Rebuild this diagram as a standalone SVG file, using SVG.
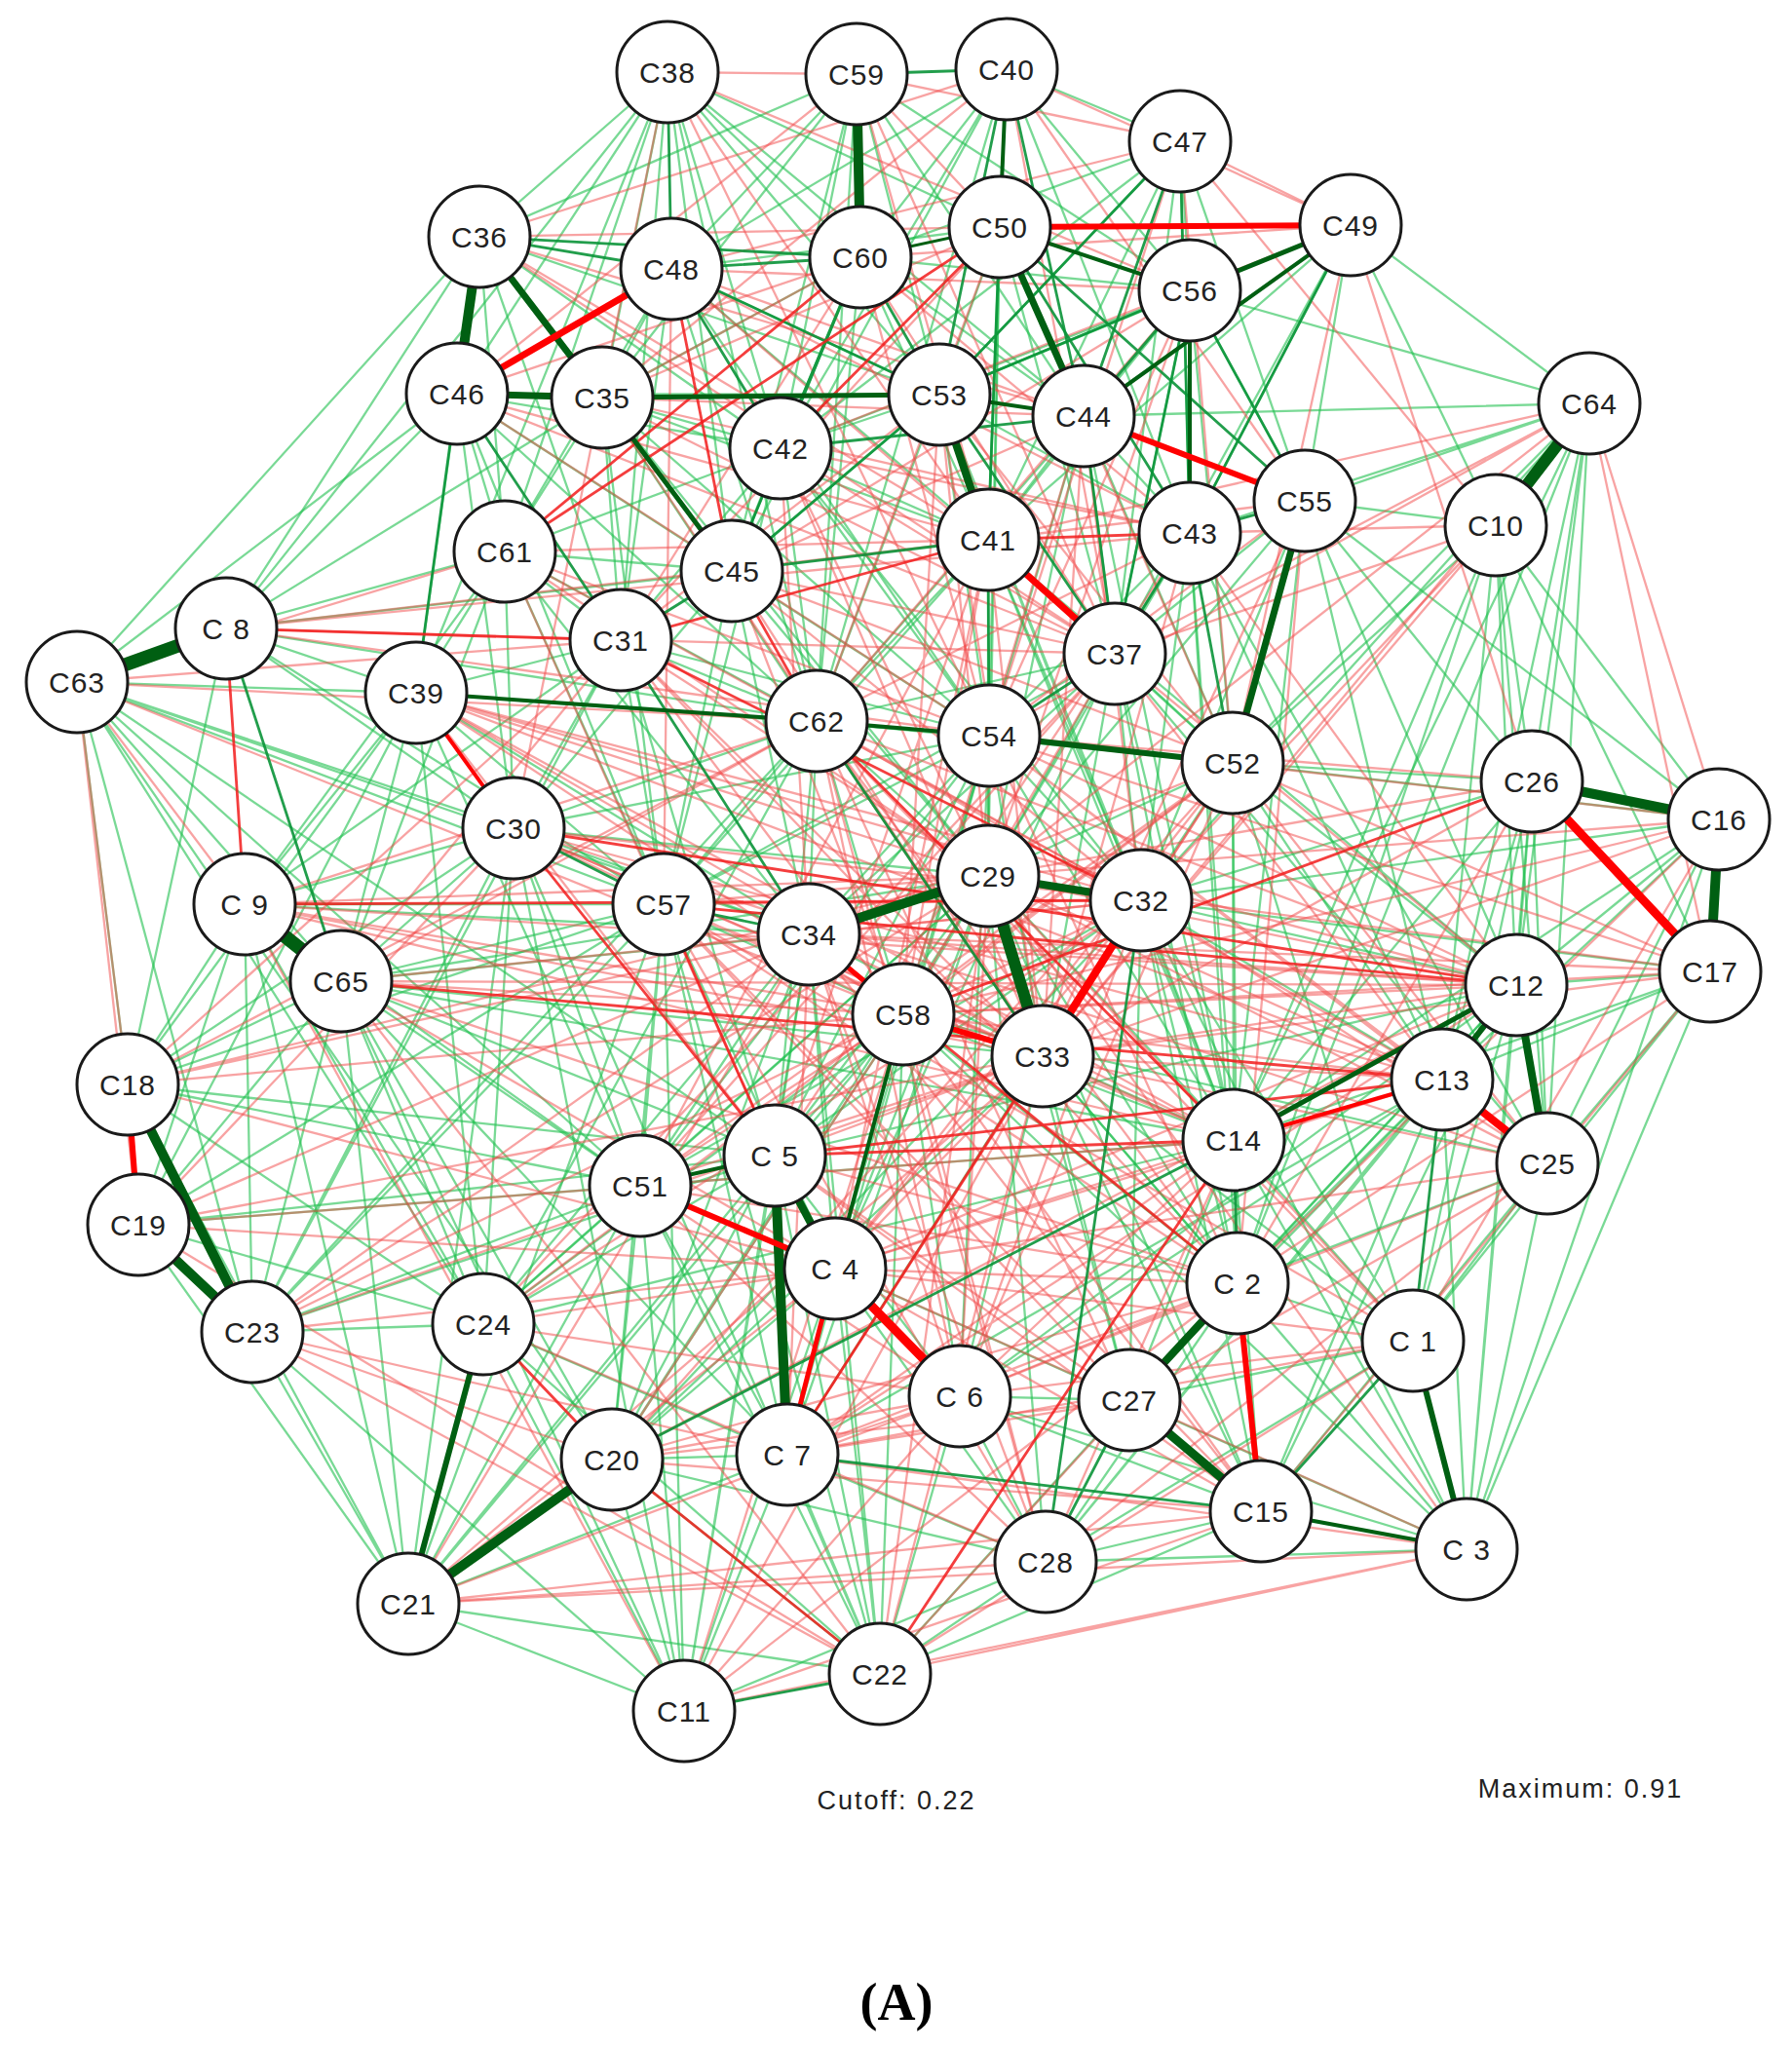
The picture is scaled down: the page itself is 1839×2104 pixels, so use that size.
<svg xmlns="http://www.w3.org/2000/svg" width="1839" height="2104" viewBox="0 0 1839 2104">
<style>
.ga{fill:none;stroke:#1fbf4f;stroke-opacity:.6;stroke-width:2.3}
.rb{fill:none;stroke:#f24848;stroke-opacity:.5;stroke-width:2.3}
.gc{fill:none;stroke:#0a9438;stroke-opacity:.9;stroke-width:2.8}
.rd{fill:none;stroke:#f21c1c;stroke-opacity:.85;stroke-width:2.8}
.ge{fill:none;stroke:#005f12}
.rf{fill:none;stroke:#ff0000}
.node circle{fill:#fff;stroke:#1a1a1a;stroke-width:3}
.node text{font-family:"Liberation Sans",Arial,sans-serif;font-size:30px;fill:#222;text-anchor:middle;letter-spacing:1px}
.cap{font-family:"Liberation Sans",Arial,sans-serif;font-size:27px;fill:#222;text-anchor:middle;letter-spacing:2px}
</style>
<rect width="1839" height="2104" fill="#fff"/>
<g id="connectors">
<path class="ga" d="M79 700L427 711M79 700L527 850M79 700L350 1007M79 700L681 928M79 700L657 1217M79 700L496 1359M79 700L469 404M79 700L492 243M79 700L628 1498M79 700L830 959M79 700L795 1186M79 700L259 1367"/>
<path class="ga" d="M685 74L883 264M685 74L1026 233M685 74L801 460M685 74L751 586M685 74L618 408M685 74L518 566M685 74L964 405M685 74L1112 427M685 74L469 404M685 74L637 657M685 74L838 740M685 74L232 645M685 74L427 711"/>
<path class="ga" d="M879 76L689 276M879 76L801 460M879 76L964 405M879 76L751 586M879 76L618 408M879 76L1112 427M879 76L492 243M879 76L1221 298M879 76L838 740"/>
<path class="ga" d="M1033 71L883 264M1033 71L801 460M1033 71L751 586M1033 71L838 740M1033 71L689 276M1033 71L1211 145M1033 71L1014 554M1033 71L1221 547M1033 71L1221 298"/>
<path class="ga" d="M1211 145L1221 298M1211 145L964 405M1211 145L1221 547M1211 145L1339 514M1211 145L1014 554M1211 145L801 460M1211 145L883 264M1211 145L1144 671"/>
<path class="ga" d="M1386 231L1339 514M1386 231L964 405M1386 231L1014 554M1386 231L1221 547M1386 231L1631 414M1386 231L1144 671M1386 231L1535 539"/>
<path class="ga" d="M1631 414L1339 514M1631 414L1221 547M1631 414L1265 783M1631 414L1572 802M1631 414L1556 1011M1631 414L1266 1170M1631 414L1270 1317M1631 414L1171 924M1631 414L1221 298M1631 414L1112 427M1631 414L1588 1194M1631 414L1480 1108"/>
<path class="ga" d="M1535 539L1339 514M1535 539L1572 802M1535 539L1556 1011M1535 539L1480 1108M1535 539L1588 1194M1535 539L1265 783M1535 539L1266 1170M1535 539L1270 1317"/>
<path class="ga" d="M1764 841L1556 1011M1764 841L1588 1194M1764 841L1265 783M1764 841L1171 924M1764 841L1480 1108M1764 841L1266 1170M1764 841L1339 514M1764 841L1535 539M1764 841L1505 1590"/>
<path class="ga" d="M1755 997L1556 1011M1755 997L1480 1108M1755 997L1588 1194M1755 997L1450 1376M1755 997L1505 1590M1755 997L1266 1170M1755 997L1171 924M1755 997L1535 539"/>
<path class="ga" d="M1505 1590L1270 1317M1505 1590L1588 1194M1505 1590L1556 1011M1505 1590L1480 1108M1505 1590L1266 1170M1505 1590L1159 1437M1505 1590L1073 1603M1505 1590L1070 1084M1505 1590L927 1041M1505 1590L985 1433M1505 1590L1171 924M1505 1590L1572 802"/>
<path class="ga" d="M903 1718L808 1493M903 1718L628 1498M903 1718L985 1433M903 1718L1073 1603M903 1718L1294 1551M903 1718L1159 1437M903 1718L857 1302M903 1718L795 1186M903 1718L657 1217M903 1718L496 1359M903 1718L681 928M903 1718L830 959M903 1718L927 1041M903 1718L527 850"/>
<path class="ga" d="M702 1756L628 1498M702 1756L808 1493M702 1756L496 1359M702 1756L657 1217M702 1756L681 928M702 1756L795 1186M702 1756L857 1302M702 1756L350 1007M702 1756L259 1367M702 1756L1073 1603M702 1756L527 850M702 1756L830 959M702 1756L419 1646"/>
<path class="ga" d="M419 1646L259 1367M419 1646L142 1257M419 1646L350 1007M419 1646L657 1217M419 1646L681 928M419 1646L527 850M419 1646L808 1493M419 1646L795 1186M419 1646L927 1041M419 1646L131 1113M419 1646L903 1718M419 1646L251 928"/>
<path class="ga" d="M259 1367L350 1007M259 1367L657 1217M259 1367L496 1359M259 1367L527 850M259 1367L681 928M259 1367L795 1186M259 1367L838 740M259 1367L637 657M259 1367L251 928"/>
<path class="ga" d="M131 1113L350 1007M131 1113L251 928M131 1113L527 850M131 1113L681 928M131 1113L657 1217M131 1113L427 711M131 1113L795 1186M131 1113L496 1359M131 1113L232 645M131 1113L79 700"/>
<path class="ga" d="M142 1257L350 1007M142 1257L251 928M142 1257L657 1217M142 1257L795 1186M142 1257L681 928M142 1257L496 1359M142 1257L427 711"/>
<path class="ga" d="M251 928L427 711M251 928L527 850M251 928L681 928M251 928L830 959M251 928L657 1217M251 928L496 1359M251 928L518 566M251 928L637 657"/>
<path class="ga" d="M350 1007L427 711M350 1007L527 850M350 1007L681 928M350 1007L830 959M350 1007L1014 899M350 1007L1070 1084M350 1007L657 1217M350 1007L795 1186M350 1007L496 1359M350 1007L628 1498M350 1007L1266 1170M350 1007L808 1493M350 1007L518 566"/>
<path class="ga" d="M232 645L427 711M232 645L518 566M232 645L751 586M232 645L838 740M232 645L469 404M232 645L618 408M232 645L527 850M232 645L492 243M232 645L681 928"/>
<path class="ga" d="M492 243L518 566M492 243L637 657M492 243L801 460M492 243L427 711M492 243L964 405M492 243L685 74"/>
<path class="ga" d="M469 404L518 566M469 404L527 850M469 404L801 460M469 404L751 586M469 404L964 405M469 404L681 928M469 404L838 740"/>
<path class="ga" d="M618 408L801 460M618 408L637 657M618 408L518 566M618 408L838 740M618 408L1014 554M618 408L681 928M618 408L1015 755M618 408L1014 899"/>
<path class="ga" d="M689 276L838 740M689 276L964 405M689 276L637 657M689 276L1014 554M689 276L1015 755M689 276L518 566M689 276L618 408"/>
<path class="ga" d="M883 264L801 460M883 264L751 586M883 264L1112 427M883 264L838 740M883 264L1014 554M883 264L1221 298M883 264L618 408"/>
<path class="ga" d="M1026 233L964 405M1026 233L1014 554M1026 233L1144 671M1026 233L1015 755M1026 233L689 276"/>
<path class="ga" d="M1221 298L1339 514M1221 298L964 405M1221 298L1014 554M1221 298L1144 671M1221 298L1265 783M1221 298L801 460"/>
<path class="ga" d="M964 405L801 460M964 405L751 586M964 405L838 740M964 405L1015 755M964 405L1221 547"/>
<path class="ga" d="M1112 427L1014 554M1112 427L1221 547M1112 427L1144 671M1112 427L1015 755M1112 427L1265 783M1112 427L838 740M1112 427L1014 899"/>
<path class="ga" d="M801 460L751 586M801 460L1014 554M801 460L838 740M801 460L637 657M801 460L518 566M801 460L1015 755M801 460L681 928"/>
<path class="ga" d="M1339 514L1144 671M1339 514L1266 1170M1339 514L1556 1011M1339 514L1480 1108M1339 514L1572 802M1339 514L1171 924M1339 514L1014 899"/>
<path class="ga" d="M518 566L637 657M518 566L751 586M518 566L427 711M518 566L838 740M518 566L681 928M518 566L527 850M518 566L830 959"/>
<path class="ga" d="M751 586L681 928M751 586L1015 755M751 586L1014 899M751 586L830 959"/>
<path class="ga" d="M1014 554L1014 899M1014 554L838 740M1014 554L1265 783M1014 554L1171 924"/>
<path class="ga" d="M1221 547L1144 671M1221 547L1015 755M1221 547L1171 924M1221 547L1266 1170M1221 547L1014 899"/>
<path class="ga" d="M637 657L838 740M637 657L681 928M637 657L1015 755M637 657L527 850M637 657L795 1186"/>
<path class="ga" d="M1144 671L1171 924M1144 671L1014 899M1144 671L1265 783M1144 671L1070 1084M1144 671L1266 1170"/>
<path class="ga" d="M427 711L681 928M427 711L1015 755M427 711L830 959M427 711L657 1217M427 711L496 1359"/>
<path class="ga" d="M838 740L1014 899M838 740L927 1041M838 740L1144 671M838 740L1265 783M838 740L681 928M838 740L830 959M838 740L795 1186"/>
<path class="ga" d="M1015 755L1014 899M1015 755L1171 924M1015 755L1070 1084M1015 755L927 1041M1015 755L1266 1170"/>
<path class="ga" d="M1265 783L1171 924M1265 783L1014 899M1265 783L1556 1011M1265 783L1266 1170M1265 783L1572 802M1265 783L1480 1108"/>
<path class="ga" d="M1572 802L1556 1011M1572 802L1480 1108M1572 802L1588 1194M1572 802L1266 1170M1572 802L1171 924"/>
<path class="ga" d="M527 850L830 959M527 850L657 1217M527 850L496 1359M527 850L838 740M527 850L1014 899"/>
<path class="ga" d="M681 928L657 1217M681 928L927 1041M681 928L857 1302M681 928L808 1493M681 928L628 1498"/>
<path class="ga" d="M1014 899L927 1041M1014 899L1266 1170M1014 899L1270 1317M1171 924L1266 1170M1171 924L1556 1011M1171 924L1270 1317M1171 924L1480 1108"/>
<path class="ga" d="M830 959L795 1186M830 959L657 1217M830 959L857 1302M830 959L1070 1084M1556 1011L1270 1317M1556 1011L1450 1376M1480 1108L1270 1317M1480 1108L1294 1551"/>
<path class="ga" d="M1266 1170L1450 1376M1266 1170L1159 1437M1266 1170L1294 1551M1588 1194L1450 1376M1588 1194L1270 1317M1588 1194L1294 1551"/>
<path class="ga" d="M927 1041L795 1186M927 1041L808 1493M927 1041L985 1433M927 1041L1270 1317M1070 1084L1266 1170M1070 1084L1270 1317M1070 1084L985 1433M1070 1084L1159 1437M1070 1084L1294 1551"/>
<path class="ga" d="M795 1186L496 1359M795 1186L628 1498M795 1186L985 1433M657 1217L496 1359M657 1217L628 1498M657 1217L808 1493M857 1302L628 1498M857 1302L1073 1603M857 1302L1159 1437"/>
<path class="ga" d="M1270 1317L1450 1376M1270 1317L1073 1603M1450 1376L1159 1437M1450 1376L1073 1603M496 1359L808 1493M985 1433L1073 1603M985 1433L1294 1551M985 1433L1159 1437"/>
<path class="ga" d="M628 1498L808 1493M628 1498L1073 1603M808 1493L1073 1603M1294 1551L1073 1603"/>
<path class="ga" d="M637 657L427 711M527 850L751 586M527 850L1015 755M681 928L1015 755M681 928L1014 554M681 928L1144 671M830 959L1015 755M830 959L1144 671M927 1041L1266 1170M927 1041L1588 1194M1070 1084L1450 1376"/>
<path class="ga" d="M795 1186L1556 1011M795 1186L1171 924M795 1186L1014 899M795 1186L1015 755M657 1217L1014 899M657 1217L1171 924M657 1217L1266 1170M657 1217L1015 755M857 1302L1014 899M857 1302L1144 671M857 1302L1015 755"/>
<path class="ga" d="M496 1359L1014 899M496 1359L830 959M496 1359L927 1041M496 1359L1266 1170M496 1359L838 740M628 1498L1014 899M628 1498L1171 924M628 1498L830 959M628 1498L927 1041M628 1498L1070 1084"/>
<path class="ga" d="M808 1493L1014 899M808 1493L1171 924M808 1493L1015 755M808 1493L1480 1108M985 1433L1015 755M985 1433L1480 1108M985 1433L1556 1011M1159 1437L1171 924M1159 1437L1014 899M1159 1437L1480 1108M1159 1437L1556 1011"/>
<path class="ga" d="M1073 1603L1014 899M1073 1603L1480 1108M1073 1603L1556 1011M1294 1551L1171 924M1294 1551L1556 1011M1294 1551L1014 899M1270 1317L1144 671M1270 1317L1265 783M1270 1317L1221 547M1450 1376L1265 783M1450 1376L1171 924M1450 1376L1572 802"/>
<path class="ga" d="M1588 1194L1144 671M1588 1194L1221 547M1480 1108L1221 547M1556 1011L1014 554M1266 1170L1014 554M1266 1170L1112 427M1266 1170L964 405M1171 924L964 405M1171 924L801 460M1014 899L1026 233"/>
<path class="rb" d="M79 700L637 657M79 700L518 566M79 700L142 1257M79 700L131 1113M79 700L838 740M79 700L251 928M79 700L927 1041"/>
<path class="rb" d="M685 74L879 76M685 74L1221 298M685 74L1014 554M685 74L1015 755M685 74L527 850"/>
<path class="rb" d="M879 76L1026 233M879 76L1014 554M879 76L469 404M879 76L1144 671M879 76L1211 145"/>
<path class="rb" d="M1033 71L1339 514M1033 71L1144 671M1033 71L618 408M1033 71L492 243M1033 71L1386 231"/>
<path class="rb" d="M1211 145L1386 231M1211 145L1015 755M1211 145L689 276M1211 145L1265 783M1211 145L1535 539"/>
<path class="rb" d="M1386 231L1265 783M1386 231L1572 802M1386 231L801 460M1386 231L883 264"/>
<path class="rb" d="M1631 414L1144 671M1631 414L1015 755M1631 414L1014 899M1631 414L1755 997M1631 414L1070 1084M1631 414L1014 554M1631 414L1764 841"/>
<path class="rb" d="M1535 539L1221 547M1535 539L1171 924M1535 539L1144 671M1535 539L1070 1084"/>
<path class="rb" d="M1764 841L1070 1084M1764 841L1015 755M1764 841L1014 899M1764 841L1270 1317M1764 841L1450 1376M1764 841L927 1041"/>
<path class="rb" d="M1755 997L1014 899M1755 997L1070 1084M1755 997L927 1041M1755 997L1270 1317M1755 997L1294 1551M1755 997L1015 755M1755 997L830 959"/>
<path class="rb" d="M1505 1590L903 1718M1505 1590L808 1493M1505 1590L857 1302M1505 1590L1014 899M1505 1590L419 1646M1505 1590L702 1756"/>
<path class="rb" d="M903 1718L1270 1317M903 1718L1070 1084M903 1718L1014 899M903 1718L1450 1376M903 1718L142 1257M903 1718L259 1367M903 1718L350 1007"/>
<path class="rb" d="M702 1756L985 1433M702 1756L1070 1084M702 1756L927 1041M702 1756L251 928M702 1756L1270 1317M702 1756L1294 1551"/>
<path class="rb" d="M419 1646L857 1302M419 1646L985 1433M419 1646L1073 1603M419 1646L1070 1084M419 1646L1294 1551M419 1646L830 959"/>
<path class="rb" d="M259 1367L628 1498M259 1367L830 959M259 1367L927 1041M259 1367L857 1302M259 1367L1070 1084M259 1367L1014 899M259 1367L808 1493"/>
<path class="rb" d="M131 1113L830 959M131 1113L927 1041M131 1113L637 657M131 1113L838 740M131 1113L857 1302M131 1113L1014 899"/>
<path class="rb" d="M142 1257L527 850M142 1257L1070 1084M142 1257L830 959M142 1257L857 1302M142 1257L1266 1170"/>
<path class="rb" d="M251 928L927 1041M251 928L1070 1084M251 928L1014 899M251 928L838 740M251 928L1266 1170M251 928L1556 1011"/>
<path class="rb" d="M350 1007L838 740M350 1007L927 1041M350 1007L1171 924M350 1007L1556 1011M350 1007L1270 1317M350 1007L637 657M350 1007L857 1302"/>
<path class="rb" d="M232 645L1014 554M232 645L1015 755M232 645L1144 671M232 645L1221 547"/>
<path class="rb" d="M492 243L1112 427M492 243L1014 554M492 243L1144 671M492 243L1026 233"/>
<path class="rb" d="M469 404L1014 554M469 404L1144 671M469 404L1015 755M469 404L883 264"/>
<path class="rb" d="M618 408L883 264M618 408L1026 233M618 408L1112 427M618 408L1144 671M618 408L1221 547"/>
<path class="rb" d="M689 276L681 928M689 276L1112 427M689 276L1144 671M689 276L1221 547M689 276L1221 298"/>
<path class="rb" d="M883 264L637 657M883 264L1144 671M883 264L1015 755M883 264L1221 547"/>
<path class="rb" d="M1026 233L838 740M1026 233L1265 783M1026 233L637 657"/>
<path class="rb" d="M1221 298L751 586M1221 298L1015 755M1221 298L838 740M1221 298L1014 899"/>
<path class="rb" d="M964 405L637 657M964 405L1265 783M964 405L1014 899M1112 427L751 586M1112 427L1171 924M1112 427L1070 1084"/>
<path class="rb" d="M801 460L1144 671M801 460L1014 899M801 460L830 959M801 460L1221 547"/>
<path class="rb" d="M1339 514L1014 554M1339 514L1015 755M1339 514L1070 1084M1339 514L1270 1317"/>
<path class="rb" d="M518 566L1014 554M518 566L1015 755M518 566L1014 899M518 566L795 1186"/>
<path class="rb" d="M751 586L1144 671M751 586L1265 783M751 586L1070 1084M751 586L927 1041"/>
<path class="rb" d="M1014 554L1070 1084M1014 554L927 1041M1221 547L838 740M1221 547L1070 1084M1221 547L1556 1011"/>
<path class="rb" d="M637 657L1014 899M637 657L927 1041M637 657L1070 1084M1144 671L927 1041M1144 671L1556 1011M1144 671L1480 1108"/>
<path class="rb" d="M427 711L1014 899M427 711L1171 924M427 711L1070 1084M427 711L927 1041M427 711L795 1186"/>
<path class="rb" d="M838 740L1171 924M838 740L1070 1084M838 740L1480 1108M838 740L1556 1011"/>
<path class="rb" d="M1015 755L1556 1011M1015 755L1480 1108M1015 755L1588 1194M1015 755L1270 1317"/>
<path class="rb" d="M1265 783L1070 1084M1265 783L927 1041M1265 783L830 959M1265 783L1755 997M1265 783L1588 1194"/>
<path class="rb" d="M1572 802L1014 899M1572 802L1070 1084M1572 802L1015 755M1572 802L838 740M1572 802L1270 1317"/>
<path class="rb" d="M527 850L927 1041M527 850L1070 1084M527 850L1171 924M681 928L1014 899M681 928L1070 1084M681 928L1171 924M681 928L1266 1170"/>
<path class="rb" d="M1014 899L1556 1011M1014 899L1480 1108M1014 899L1588 1194M1014 899L1450 1376M1014 899L985 1433"/>
<path class="rb" d="M1171 924L927 1041M1171 924L830 959M1171 924L1588 1194M1171 924L985 1433M1171 924L857 1302"/>
<path class="rb" d="M830 959L1556 1011M830 959L1266 1170M830 959L808 1493M830 959L985 1433"/>
<path class="rb" d="M1556 1011L1070 1084M1556 1011L927 1041M1556 1011L857 1302M1480 1108L1070 1084M1480 1108L927 1041M1480 1108L857 1302"/>
<path class="rb" d="M1266 1170L857 1302M1266 1170L808 1493M1266 1170L985 1433M1266 1170L1073 1603"/>
<path class="rb" d="M1588 1194L1070 1084M1588 1194L857 1302M1588 1194L985 1433M1588 1194L1073 1603M1588 1194L1159 1437"/>
<path class="rb" d="M927 1041L1073 1603M927 1041L657 1217M927 1041L628 1498M1070 1084L795 1186M1070 1084L857 1302M1070 1084L657 1217"/>
<path class="rb" d="M795 1186L1270 1317M795 1186L1159 1437M795 1186L1294 1551M657 1217L985 1433M657 1217L1073 1603M657 1217L1270 1317"/>
<path class="rb" d="M857 1302L1294 1551M857 1302L1270 1317M1270 1317L985 1433M1270 1317L808 1493M1270 1317L628 1498"/>
<path class="rb" d="M1450 1376L985 1433M1450 1376L808 1493M1450 1376L857 1302M496 1359L857 1302M496 1359L985 1433M496 1359L1073 1603"/>
<path class="rb" d="M985 1433L808 1493M985 1433L628 1498M1159 1437L808 1493M1159 1437L628 1498M1294 1551L628 1498"/>
<path class="rb" d="M927 1041L1112 427M927 1041L964 405M1070 1084L964 405M1070 1084L801 460M1070 1084L618 408M795 1186L1014 554M795 1186L1221 547M657 1217L1014 554M657 1217L1144 671M657 1217L1265 783"/>
<path class="rb" d="M857 1302L1014 554M857 1302L1265 783M496 1359L1144 671M496 1359L1265 783M496 1359L1171 924M628 1498L1265 783M628 1498L1556 1011M808 1493L1265 783M808 1493L1556 1011M985 1433L1265 783M985 1433L838 740"/>
<path class="rb" d="M1159 1437L838 740M1159 1437L681 928M1073 1603L681 928M1073 1603L838 740M1073 1603L830 959M1294 1551L681 928M1294 1551L830 959M1294 1551L927 1041M1270 1317L681 928M1270 1317L838 740M1270 1317L637 657"/>
<path class="rb" d="M1450 1376L838 740M1450 1376L681 928M1480 1108L527 850M1480 1108L427 711M1266 1170L527 850M1266 1170L427 711M1556 1011L427 711M1588 1194L527 850M1171 924L518 566M1171 924L751 586"/>
<path class="gc" d="M685 74L689 276M879 76L1033 71M492 243L689 276M492 243L883 264M689 276L883 264M1211 145L1112 427M469 404L637 657M469 404L427 711M689 276L801 460M964 405L883 264M964 405L751 586M751 586L1014 554M637 657L751 586"/>
<path class="gc" d="M637 657L830 959M527 850L681 928M681 928L830 959M838 740L1070 1084M1014 554L1015 755M1144 671L1015 755M1221 547L1265 783M964 405L1144 671M1221 298L1112 427M1026 233L1221 547M1026 233L1339 514"/>
<path class="gc" d="M628 1498L1266 1170M808 1493L1294 1551M702 1756L903 1718M1171 924L1073 1603M1159 1437L1073 1603M1450 1376L1294 1551M1450 1376L1480 1108M232 645L350 1007M1033 71L964 405M1033 71L1112 427M1339 514L1221 547M1266 1170L1270 1317"/>
<path class="gc" d="M883 264L801 460M883 264L751 586M689 276L964 405M801 460L1112 427M964 405L1221 298M1026 233L1014 554M1211 145L1221 547M1211 145L964 405M1386 231L1221 547M1221 298L1339 514M1112 427L1144 671M1221 547L1144 671M1221 298L1144 671"/>
<path class="rd" d="M232 645L637 657M232 645L251 928M681 928L795 1186M527 850L795 1186M496 1359L628 1498M628 1498L903 1718M1266 1170L903 1718M1014 554L1221 547M637 657L1014 554M1026 233L518 566M883 264L518 566M1026 233L801 460"/>
<path class="rd" d="M689 276L751 586M492 243L751 586M751 586L838 740M251 928L1171 924M350 1007L1480 1108M527 850L1556 1011M681 928L1556 1011M637 657L1171 924M838 740L1266 1170M1572 802L927 1041M830 959L1270 1317M1480 1108L795 1186M1266 1170L795 1186M1070 1084L808 1493"/>
<path class="ge" stroke-width="14" d="M79 700L232 645M251 928L350 1007"/>
<path class="ge" stroke-width="12" d="M1631 414L1535 539M1014 899L1070 1084"/>
<path class="ge" stroke-width="10" d="M879 76L883 264M1572 802L1764 841M1764 841L1755 997M131 1113L259 1367M142 1257L259 1367M628 1498L419 1646M1014 899L830 959M795 1186L808 1493M492 243L469 404"/>
<path class="ge" stroke-width="8" d="M1556 1011L1588 1194M1014 899L1171 924M795 1186L857 1302M1270 1317L1159 1437M964 405L1014 554"/>
<path class="ge" stroke-width="9" d="M1159 1437L1294 1551"/>
<path class="ge" stroke-width="7" d="M1339 514L1265 783M492 243L618 408M469 404L618 408M1026 233L1112 427"/>
<path class="ge" stroke-width="6" d="M1556 1011L1480 1108M496 1359L419 1646M1450 1376L1505 1590M1015 755L1265 783"/>
<path class="ge" stroke-width="5" d="M1266 1170L1556 1011M618 408L964 405M618 408L751 586M1386 231L1221 298"/>
<path class="ge" stroke-width="4" d="M1294 1551L1505 1590M1033 71L1026 233M1386 231L1112 427M1221 298L1221 547M1026 233L1221 298M427 711L838 740M838 740L1015 755M927 1041L857 1302M657 1217L795 1186M964 405L1112 427"/>
<path class="ge" stroke-width="3" d="M883 264L1026 233"/>
<path class="rf" stroke-width="9" d="M1572 802L1755 997M857 1302L985 1433"/>
<path class="rf" stroke-width="8" d="M1480 1108L1588 1194M1171 924L1070 1084"/>
<path class="rf" stroke-width="7" d="M1014 554L1144 671M469 404L689 276"/>
<path class="rf" stroke-width="6" d="M927 1041L1070 1084M657 1217L857 1302M131 1113L142 1257M1270 1317L1294 1551M1112 427L1339 514M1026 233L1386 231"/>
<path class="rf" stroke-width="5" d="M830 959L927 1041M857 1302L808 1493"/>
<path class="rf" stroke-width="4" d="M1266 1170L1480 1108M427 711L527 850"/>
</g>
<g id="n38" class="node"><circle cx="685" cy="74" r="52"/><text x="685" y="85">C38</text></g>
<g id="n59" class="node"><circle cx="879" cy="76" r="52"/><text x="879" y="87">C59</text></g>
<g id="n40" class="node"><circle cx="1033" cy="71" r="52"/><text x="1033" y="82">C40</text></g>
<g id="n47" class="node"><circle cx="1211" cy="145" r="52"/><text x="1211" y="156">C47</text></g>
<g id="n49" class="node"><circle cx="1386" cy="231" r="52"/><text x="1386" y="242">C49</text></g>
<g id="n36" class="node"><circle cx="492" cy="243" r="52"/><text x="492" y="254">C36</text></g>
<g id="n48" class="node"><circle cx="689" cy="276" r="52"/><text x="689" y="287">C48</text></g>
<g id="n60" class="node"><circle cx="883" cy="264" r="52"/><text x="883" y="275">C60</text></g>
<g id="n50" class="node"><circle cx="1026" cy="233" r="52"/><text x="1026" y="244">C50</text></g>
<g id="n56" class="node"><circle cx="1221" cy="298" r="52"/><text x="1221" y="309">C56</text></g>
<g id="n64" class="node"><circle cx="1631" cy="414" r="52"/><text x="1631" y="425">C64</text></g>
<g id="n46" class="node"><circle cx="469" cy="404" r="52"/><text x="469" y="415">C46</text></g>
<g id="n35" class="node"><circle cx="618" cy="408" r="52"/><text x="618" y="419">C35</text></g>
<g id="n42" class="node"><circle cx="801" cy="460" r="52"/><text x="801" y="471">C42</text></g>
<g id="n53" class="node"><circle cx="964" cy="405" r="52"/><text x="964" y="416">C53</text></g>
<g id="n44" class="node"><circle cx="1112" cy="427" r="52"/><text x="1112" y="438">C44</text></g>
<g id="n55" class="node"><circle cx="1339" cy="514" r="52"/><text x="1339" y="525">C55</text></g>
<g id="n10" class="node"><circle cx="1535" cy="539" r="52"/><text x="1535" y="550">C10</text></g>
<g id="n61" class="node"><circle cx="518" cy="566" r="52"/><text x="518" y="577">C61</text></g>
<g id="n45" class="node"><circle cx="751" cy="586" r="52"/><text x="751" y="597">C45</text></g>
<g id="n41" class="node"><circle cx="1014" cy="554" r="52"/><text x="1014" y="565">C41</text></g>
<g id="n43" class="node"><circle cx="1221" cy="547" r="52"/><text x="1221" y="558">C43</text></g>
<g id="n8" class="node"><circle cx="232" cy="645" r="52"/><text x="232" y="656">C 8</text></g>
<g id="n63" class="node"><circle cx="79" cy="700" r="52"/><text x="79" y="711">C63</text></g>
<g id="n31" class="node"><circle cx="637" cy="657" r="52"/><text x="637" y="668">C31</text></g>
<g id="n37" class="node"><circle cx="1144" cy="671" r="52"/><text x="1144" y="682">C37</text></g>
<g id="n39" class="node"><circle cx="427" cy="711" r="52"/><text x="427" y="722">C39</text></g>
<g id="n62" class="node"><circle cx="838" cy="740" r="52"/><text x="838" y="751">C62</text></g>
<g id="n54" class="node"><circle cx="1015" cy="755" r="52"/><text x="1015" y="766">C54</text></g>
<g id="n52" class="node"><circle cx="1265" cy="783" r="52"/><text x="1265" y="794">C52</text></g>
<g id="n26" class="node"><circle cx="1572" cy="802" r="52"/><text x="1572" y="813">C26</text></g>
<g id="n16" class="node"><circle cx="1764" cy="841" r="52"/><text x="1764" y="852">C16</text></g>
<g id="n30" class="node"><circle cx="527" cy="850" r="52"/><text x="527" y="861">C30</text></g>
<g id="n9" class="node"><circle cx="251" cy="928" r="52"/><text x="251" y="939">C 9</text></g>
<g id="n57" class="node"><circle cx="681" cy="928" r="52"/><text x="681" y="939">C57</text></g>
<g id="n29" class="node"><circle cx="1014" cy="899" r="52"/><text x="1014" y="910">C29</text></g>
<g id="n32" class="node"><circle cx="1171" cy="924" r="52"/><text x="1171" y="935">C32</text></g>
<g id="n34" class="node"><circle cx="830" cy="959" r="52"/><text x="830" y="970">C34</text></g>
<g id="n17" class="node"><circle cx="1755" cy="997" r="52"/><text x="1755" y="1008">C17</text></g>
<g id="n65" class="node"><circle cx="350" cy="1007" r="52"/><text x="350" y="1018">C65</text></g>
<g id="n12" class="node"><circle cx="1556" cy="1011" r="52"/><text x="1556" y="1022">C12</text></g>
<g id="n58" class="node"><circle cx="927" cy="1041" r="52"/><text x="927" y="1052">C58</text></g>
<g id="n33" class="node"><circle cx="1070" cy="1084" r="52"/><text x="1070" y="1095">C33</text></g>
<g id="n18" class="node"><circle cx="131" cy="1113" r="52"/><text x="131" y="1124">C18</text></g>
<g id="n13" class="node"><circle cx="1480" cy="1108" r="52"/><text x="1480" y="1119">C13</text></g>
<g id="n14" class="node"><circle cx="1266" cy="1170" r="52"/><text x="1266" y="1181">C14</text></g>
<g id="n25" class="node"><circle cx="1588" cy="1194" r="52"/><text x="1588" y="1205">C25</text></g>
<g id="n5" class="node"><circle cx="795" cy="1186" r="52"/><text x="795" y="1197">C 5</text></g>
<g id="n51" class="node"><circle cx="657" cy="1217" r="52"/><text x="657" y="1228">C51</text></g>
<g id="n19" class="node"><circle cx="142" cy="1257" r="52"/><text x="142" y="1268">C19</text></g>
<g id="n4" class="node"><circle cx="857" cy="1302" r="52"/><text x="857" y="1313">C 4</text></g>
<g id="n2" class="node"><circle cx="1270" cy="1317" r="52"/><text x="1270" y="1328">C 2</text></g>
<g id="n1" class="node"><circle cx="1450" cy="1376" r="52"/><text x="1450" y="1387">C 1</text></g>
<g id="n23" class="node"><circle cx="259" cy="1367" r="52"/><text x="259" y="1378">C23</text></g>
<g id="n24" class="node"><circle cx="496" cy="1359" r="52"/><text x="496" y="1370">C24</text></g>
<g id="n6" class="node"><circle cx="985" cy="1433" r="52"/><text x="985" y="1444">C 6</text></g>
<g id="n27" class="node"><circle cx="1159" cy="1437" r="52"/><text x="1159" y="1448">C27</text></g>
<g id="n20" class="node"><circle cx="628" cy="1498" r="52"/><text x="628" y="1509">C20</text></g>
<g id="n7" class="node"><circle cx="808" cy="1493" r="52"/><text x="808" y="1504">C 7</text></g>
<g id="n15" class="node"><circle cx="1294" cy="1551" r="52"/><text x="1294" y="1562">C15</text></g>
<g id="n3" class="node"><circle cx="1505" cy="1590" r="52"/><text x="1505" y="1601">C 3</text></g>
<g id="n28" class="node"><circle cx="1073" cy="1603" r="52"/><text x="1073" y="1614">C28</text></g>
<g id="n21" class="node"><circle cx="419" cy="1646" r="52"/><text x="419" y="1657">C21</text></g>
<g id="n22" class="node"><circle cx="903" cy="1718" r="52"/><text x="903" y="1729">C22</text></g>
<g id="n11" class="node"><circle cx="702" cy="1756" r="52"/><text x="702" y="1767">C11</text></g>
<text class="cap" x="920" y="1857">Cutoff: 0.22</text>
<text class="cap" x="1622" y="1845">Maximum: 0.91</text>
<text x="920" y="2073" font-family="'Liberation Serif','Times New Roman',serif" font-size="54" font-weight="bold" text-anchor="middle" fill="#000">(A)</text>
</svg>
